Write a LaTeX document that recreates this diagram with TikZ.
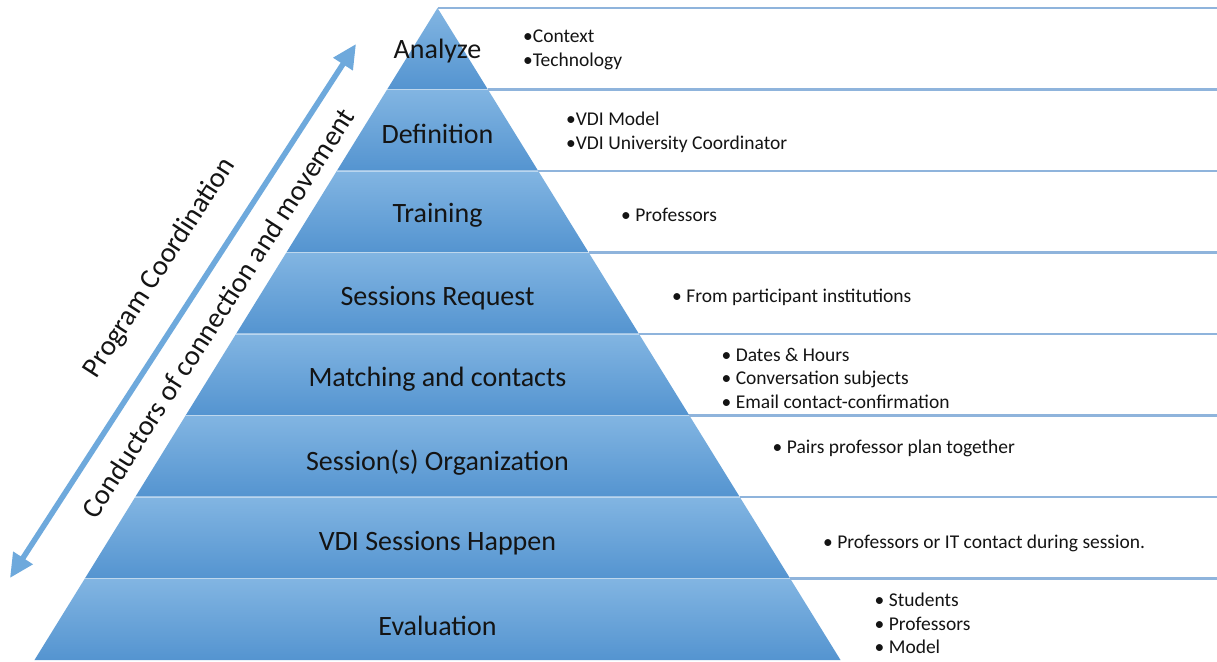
\documentclass[tikz,border=0pt]{standalone}
\usepackage{fontspec}
\setmainfont{Carlito}
\usetikzlibrary{arrows.meta}

\definecolor{layertop}{HTML}{82B5E2}
\definecolor{layerbot}{HTML}{5494D0}
\definecolor{rowrule}{HTML}{8FB4DC}
\definecolor{arrowblue}{HTML}{6EA9DC}
\definecolor{ink}{HTML}{141414}

\tikzset{
  stagelabel/.style={text=ink, inner sep=0pt, font=\fontsize{28}{32}\selectfont},
  detail/.style={text=ink, inner sep=0pt, anchor=west, align=left,
                 font=\fontsize{19.5}{23.5}\selectfont},
  sidelabel/.style={text=ink, inner sep=0pt, font=\fontsize{28.5}{32}\selectfont},
  rowline/.style={draw=rowrule, line width=2.2pt},
  bigarrow/.style={draw=arrowblue, line width=5.5pt,
                   {Triangle[length=24pt,width=22pt]}-{Triangle[length=24pt,width=22pt]}}
}

\begin{document}
\begin{tikzpicture}[x=1pt,y=-1pt]
\useasboundingbox (0,0) rectangle (1217,661);
\fill[white] (0,0) rectangle (1217,661);

% pyramid layers: apex at (437.5,8), base at y=660, eight bands of 81.5
\foreach \i in {0,...,7}{
  \pgfmathsetmacro\yt{8+81.5*\i}
  \pgfmathsetmacro\yb{\yt+81.5}
  \pgfmathsetmacro\wt{(\yt-8)*0.6181}
  \pgfmathsetmacro\wb{(\yb-8)*0.6181}
  \shade[top color=layertop, bottom color=layerbot]
    (437.5-\wt,\yt) -- (437.5+\wt,\yt) -- (437.5+\wb,\yb) -- (437.5-\wb,\yb) -- cycle;
}
% light seams between bands
\foreach \i in {1,...,7}{
  \pgfmathsetmacro\ys{8+81.5*\i}
  \pgfmathsetmacro\ws{(\ys-8)*0.6181}
  \draw[white, opacity=0.45, line width=1.2pt] (437.5-\ws,\ys) -- (437.5+\ws,\ys);
}

% row rules of the description table
\foreach \i in {0,...,7}{
  \pgfmathsetmacro\yr{8+81.5*\i}
  \pgfmathsetmacro\xr{437.5+(\yr-8)*0.6181}
  \coordinate (r\i) at (\xr,\yr);
  \coordinate (e\i) at (1217,\yr);
  \draw[rowline] (r\i) -- (e\i);
}

% stage names
\node[stagelabel] (s1) at (437.5,51.5)  {Analyze};
\node[stagelabel] (s2) at (437.5,133.5) {Definition};
\node[stagelabel] (s3) at (437.5,215.5) {Training};
\node[stagelabel] (s4) at (437.5,298.5) {Sessions Request};
\node[stagelabel] (s5) at (437.5,379.5) {Matching and contacts};
\node[stagelabel] (s6) at (437.5,462.5) {Session(s) Organization};
\node[stagelabel] (s7) at (437.5,543.5) {VDI Sessions Happen};
\node[stagelabel] (s8) at (437.5,625.5) {Evaluation};

% stage details
\node[detail] (d1) at (523,50) {•Context\\•Technology};
\node[detail] (d2) at (566,132.5) {•VDI Model\\•VDI University Coordinator};
\node[detail] (d3) at (621,214.5) {• Professors};
\node[detail] (d4) at (672,297.5) {• From participant institutions};
\node[detail] (d5) at (721.5,378) {• Dates \& Hours\\• Conversation subjects\\• Email contact-confirmation};
\node[detail] (d6) at (772.5,448.5) {• Pairs professor plan together};
\node[detail] (d7) at (823,543.5) {• Professors or IT contact during session.};
\node[detail] (d8) at (874.5,623.5) {• Students\\• Professors\\• Model};

% coordination arrow along the left flank
\coordinate (alow) at (10,578);
\coordinate (ahigh) at (356,44);
\draw[bigarrow] (alow) -- (ahigh);

\node[sidelabel, rotate=57.1] (pc) at (160,268) {Program Coordination};
\node[sidelabel, rotate=57.3] (cm) at (218,313) {Conductors of connection and movement};
\end{tikzpicture}
\end{document}
